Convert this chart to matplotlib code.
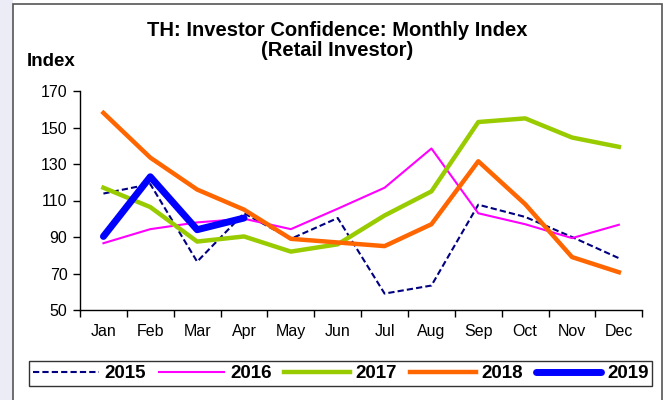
import matplotlib
matplotlib.use("Agg")
import matplotlib.pyplot as plt
from matplotlib.patches import Rectangle

plt.rcParams['font.family'] = ['Liberation Sans', 'DejaVu Sans']

months = ['Jan', 'Feb', 'Mar', 'Apr', 'May', 'Jun', 'Jul', 'Aug', 'Sep', 'Oct', 'Nov', 'Dec']
y2015 = [113.8, 119, 76.5, 103, 89, 100.4, 59, 63.4, 107.7, 101, 90, 78.4]
y2016 = [86.6, 94.3, 98, 100, 94.3, 105.5, 117, 138.5, 103, 97, 89.4, 96.7]
y2017 = [117, 106.4, 87.5, 90.3, 82, 86, 101.8, 115, 153, 155, 144.5, 139.4]
y2018 = [158, 133.5, 116, 105, 89, 87, 85, 97, 131.5, 108, 79, 70.7]
y2019 = [90.3, 123, 94, 100.4]

W, H = 669, 400
fig = plt.figure(figsize=(W / 100, H / 100), dpi=100)
fig.patch.set_facecolor('white')

# lavender strip on the left and the chart frame
fig.patches.append(Rectangle((0, 0), 13 / W, 1, transform=fig.transFigure,
                             facecolor='#ececf6', edgecolor='none', zorder=-2))
fig.patches.append(Rectangle((13 / W, -0.05), (662 - 13) / W, (1.05 - 4 / H),
                             transform=fig.transFigure, facecolor='white',
                             edgecolor='#555555', linewidth=1.2, zorder=-1))

ax = fig.add_axes([80 / W, (H - 310) / H, (642.3 - 80) / W, (310 - 91) / H])
ax.set_facecolor('none')
ax.set_zorder(1)
x = list(range(12))

ax.plot(x, y2015, color='#000080', lw=1.5, dashes=(3, 1.5), label='2015')
ax.plot(x, y2016, color='#ff00ff', lw=1.5, label='2016')
ax.plot(x, y2017, color='#99cc00', lw=3.2, label='2017')
ax.plot(x, y2018, color='#ff6600', lw=3.2, label='2018')
ax.plot(x[:len(y2019)], y2019, color='#0000ff', lw=5, label='2019',
        solid_capstyle='round', solid_joinstyle='round')

ax.set_xlim(-0.5, 11.5)
ax.set_ylim(50, 170)
ax.set_yticks(range(50, 171, 20))
ax.set_xticks(x)
ax.set_xticklabels(months)
ax.set_xticks([i - 0.5 for i in range(13)], minor=True)
ax.tick_params(axis='x', which='major', length=0, pad=10, labelsize=11.5)
ax.tick_params(axis='x', which='minor', length=5, width=1)
ax.tick_params(axis='y', length=5, width=1, pad=4, labelsize=11.5)
for s in ['top', 'right']:
    ax.spines[s].set_visible(False)
for s in ['left', 'bottom']:
    ax.spines[s].set_linewidth(1)

fig.text(337 / W, 1 - 21 / H, 'TH: Investor Confidence: Monthly Index\n(Retail Investor)',
         ha='center', va='top', fontsize=14.5, fontweight='bold', linespacing=1.05)
fig.text(27 / W, 1 - 62 / H, 'Index', ha='left', va='center', fontsize=13.5,
         fontweight='bold')

leg = fig.legend(loc='lower left', ncol=5, mode='expand',
                 bbox_to_anchor=(29.3 / W, 1 - 386 / H, (652.3 - 29.3) / W, 25 / H),
                 prop={'weight': 'bold', 'size': 13.5}, handlelength=3.5,
                 handletextpad=0.3, borderpad=0.2, borderaxespad=0,
                 fancybox=False, frameon=True)
leg.get_frame().set_edgecolor('black')
leg.get_frame().set_linewidth(1)

fig.savefig('out.png', dpi=100)
